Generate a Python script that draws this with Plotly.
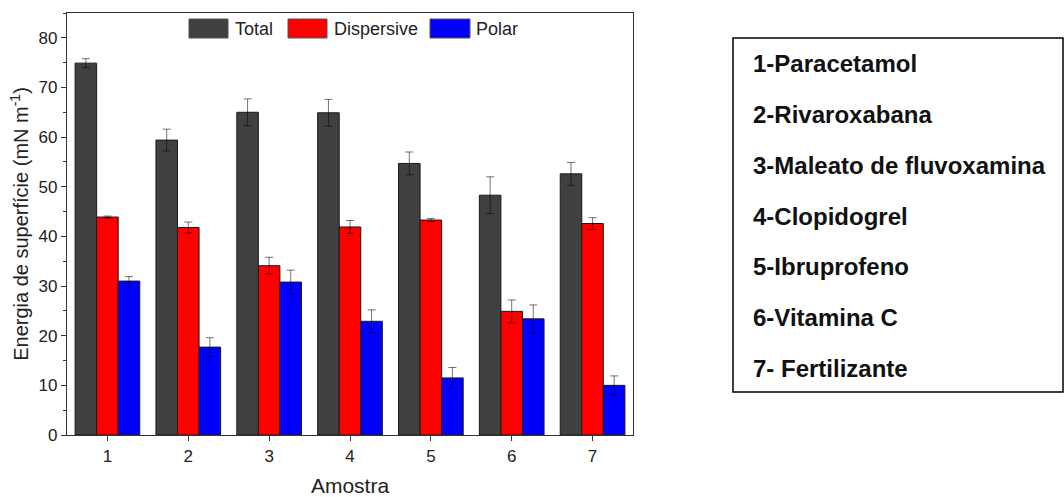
import plotly.graph_objects as go

# Surface energy components per sample (mN m-1)
samples = [1, 2, 3, 4, 5, 6, 7]
total = [74.9, 59.4, 65.0, 64.9, 54.7, 48.3, 52.6]
total_err = [0.9, 2.2, 2.7, 2.7, 2.3, 3.7, 2.3]
dispersive = [43.9, 41.8, 34.1, 41.9, 43.3, 24.9, 42.6]
dispersive_err = [0.2, 1.1, 1.7, 1.3, 0.3, 2.3, 1.2]
polar = [31.0, 17.7, 30.8, 22.9, 11.5, 23.4, 10.0]
polar_err = [0.9, 1.9, 2.4, 2.3, 2.1, 2.8, 1.9]

series_names = ["Total", "Dispersive", "Polar"]
series_colors = ["#404040", "#ff0000", "#0000ff"]
sample_names = [
    "1-Paracetamol",
    "2-Rivaroxabana",
    "3-Maleato de fluvoxamina",
    "4-Clopidogrel",
    "5-Ibruprofeno",
    "6-Vitamina C",
    "7- Fertilizante",
]

FONT = "Liberation Sans, Arial, sans-serif"

fig = go.Figure()
for name, vals, errs, col in zip(
    series_names,
    [total, dispersive, polar],
    [total_err, dispersive_err, polar_err],
    series_colors,
):
    fig.add_trace(
        go.Bar(
            x=samples,
            y=vals,
            name=name,
            marker=dict(color=col, line=dict(color="#1a1a1a", width=1)),
            error_y=dict(
                type="data",
                array=errs,
                visible=True,
                color="rgba(0,0,0,0.55)",
                thickness=1,
                width=4,
            ),
            showlegend=False,
        )
    )

# Plot area in pixels (used to place legend and key box in paper coords)
W, H = 1064, 497
PL, PR, PT, PB = 67, 633, 13, 435


def px_x(x):
    return (x - PL) / (PR - PL)


def px_y(y):
    return (PB - y) / (PB - PT)


# Legend row drawn inside the top of the plot frame
legend_items = [
    (189, 228, 233, "Total"),
    (288, 327, 332, "Dispersive"),
    (430, 470, 474, "Polar"),
]
for (x0, x1, tx, label), col in zip(legend_items, series_colors):
    fig.add_shape(
        type="rect", xref="paper", yref="paper",
        x0=px_x(x0), x1=px_x(x1), y0=px_y(38), y1=px_y(19),
        fillcolor=col, line=dict(color="#555555", width=1),
    )
    fig.add_annotation(
        xref="paper", yref="paper",
        x=px_x(tx), y=px_y(28.5),
        text=label, showarrow=False, xanchor="left", yanchor="middle",
        font=dict(family=FONT, size=18, color="#222222"),
    )

# Sample key box on the right
fig.add_shape(
    type="rect", xref="paper", yref="paper",
    x0=px_x(733), x1=px_x(1063), y0=px_y(392), y1=px_y(38),
    line=dict(color="#000000", width=1.5), fillcolor="rgba(0,0,0,0)",
)
for i, txt in enumerate(sample_names):
    fig.add_annotation(
        xref="paper", yref="paper",
        x=px_x(751), y=px_y(64 + i * 50.7),
        text="<b>" + txt + "</b>", showarrow=False,
        xanchor="left", yanchor="middle",
        font=dict(family=FONT, size=24, color="#111111"),
    )

axis_common = dict(
    showline=True, linecolor="#333333", linewidth=1.3, mirror=True,
    ticks="outside", tickcolor="#333333", ticklen=5, tickwidth=1,
    showgrid=False, zeroline=False, automargin=False,
    tickfont=dict(family=FONT, size=17, color="#222222"),
)

fig.update_layout(
    width=W, height=H,
    margin=dict(l=PL, r=W - PR, t=PT, b=H - PB),
    paper_bgcolor="white", plot_bgcolor="white",
    barmode="group", bargap=0.2, bargroupgap=0.0,
    xaxis=dict(
        **axis_common,
        range=[0.5, 7.5], tickvals=samples, ticktext=[str(s) for s in samples],
        title=dict(text="Amostra", font=dict(family=FONT, size=21, color="#222222"), standoff=18),
    ),
    yaxis=dict(
        **axis_common,
        range=[0, 85], tickvals=[0, 10, 20, 30, 40, 50, 60, 70, 80],
        minor=dict(ticks="outside", ticklen=3, tickcolor="#333333", dtick=5, tick0=0),
        title=dict(
            text="Energia de superfície (mN m<sup>-1</sup>)",
            font=dict(family=FONT, size=20, color="#222222"), standoff=4,
        ),
    ),
)

fig.write_html("out.html")
